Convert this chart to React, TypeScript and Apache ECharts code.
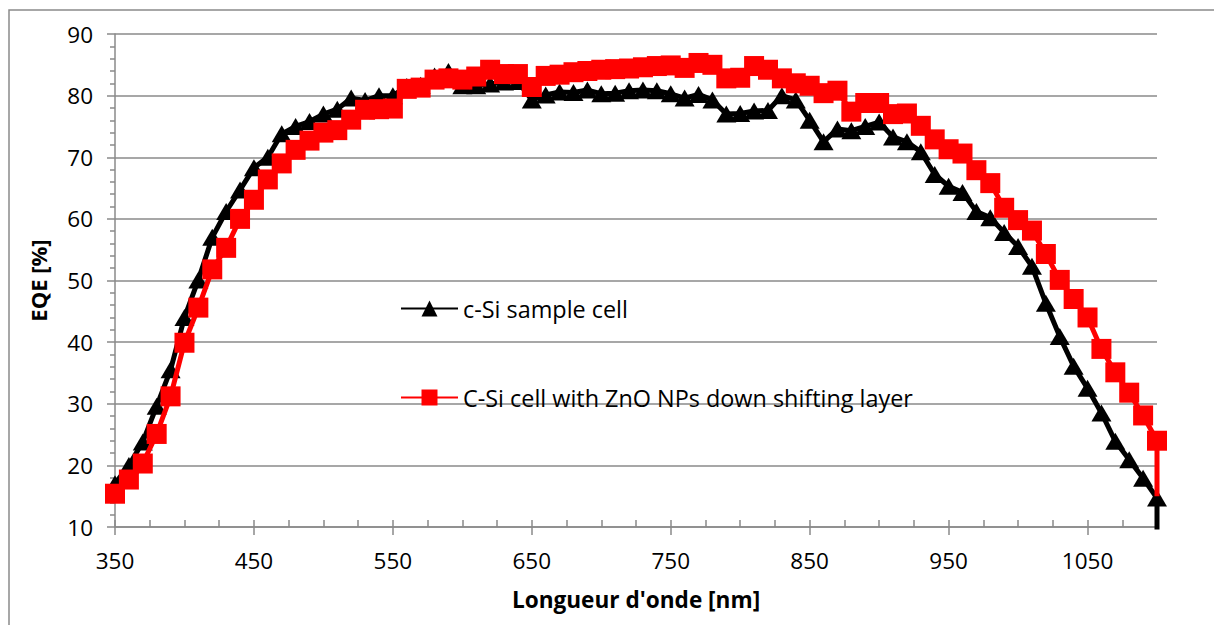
import { useEffect, useRef } from "react";
import * as echarts from "echarts";

const wavelengths = [
  350, 360, 370, 380, 390, 400, 410, 420, 430, 440, 450, 460, 470, 480, 490,
  500, 510, 520, 530, 540, 550, 560, 570, 580, 590, 600, 610, 620, 630, 640,
  650, 660, 670, 680, 690, 700, 710, 720, 730, 740, 750, 760, 770, 780, 790,
  800, 810, 820, 830, 840, 850, 860, 870, 880, 890, 900, 910, 920, 930, 940,
  950, 960, 970, 980, 990, 1000, 1010, 1020, 1030, 1040, 1050, 1060, 1070,
  1080, 1090, 1100,
];

const sampleCell = [
  17.0, 20.0, 23.8, 29.6, 35.5, 44.0, 50.1, 57.0, 61.2, 64.7, 68.3, 70.0, 73.8,
  75.0, 75.8, 77.0, 77.8, 79.6, 79.2, 80.0, 80.0, 81.5, 81.7, 83.2, 83.9, 81.6,
  81.6, 81.9, 82.2, 82.3, 79.3, 80.1, 80.6, 80.5, 80.9, 80.3, 80.4, 80.8, 80.9,
  80.8, 80.3, 79.6, 80.2, 79.3, 77.0, 77.1, 77.5, 77.6, 80.0, 79.3, 76.0, 72.5,
  74.6, 74.3, 75.0, 75.7, 73.3, 72.5, 70.9, 67.2, 65.3, 64.3, 61.2, 60.2, 57.8,
  55.5, 52.3, 46.3, 40.9, 36.1, 32.5, 28.5, 23.9, 20.9, 17.9, 14.7,
];

const znoCell = [
  15.4, 17.7, 20.3, 25.1, 31.2, 39.9, 45.6, 51.8, 55.3, 60.0, 63.1, 66.4, 69.0,
  71.2, 72.7, 74.0, 74.4, 76.1, 77.7, 77.8, 77.9, 81.1, 81.3, 82.6, 82.8, 82.6,
  83.1, 84.2, 83.5, 83.5, 81.4, 83.2, 83.4, 83.8, 84.0, 84.2, 84.3, 84.4, 84.6,
  84.8, 84.9, 84.5, 85.3, 85.0, 82.8, 82.9, 84.8, 84.2, 82.8, 82.0, 81.6, 80.4,
  80.8, 77.4, 78.8, 78.8, 77.0, 77.1, 75.1, 72.9, 71.3, 70.6, 67.9, 65.8, 61.8,
  59.8, 58.1, 54.3, 50.1, 47.0, 44.0, 38.9, 35.1, 31.8, 28.1, 24.0,
];

// final unmarked points where each trace drops at the end of the range
const sampleTail = [1100, 5];
const znoTail = [1100, 15];

const seriesNames = [
  "c-Si sample cell",
  "C-Si cell with ZnO NPs down shifting layer",
];

const xAxisTitle = "Longueur d'onde [nm]";
const yAxisTitle = "EQE [%]";

const FONT = "'Open Sans', sans-serif";
const GRAY = "#8a8a8a";

export default function App() {
  const ref = useRef<HTMLDivElement>(null);

  useEffect(() => {
    if (!ref.current) return;
    const chart = echarts.init(ref.current, undefined, { renderer: "svg" });

    const blackData: any[] = wavelengths.map((w, i) => [w, sampleCell[i]]);
    blackData.push({ value: sampleTail, symbol: "none" });
    const redData: any[] = wavelengths.map((w, i) => [w, znoCell[i]]);
    redData.push({ value: znoTail, symbol: "none" });

    const option: any = {
      animation: false,
      backgroundColor: "#ffffff",
      graphic: [
        {
          type: "rect",
          shape: { x: 9, y: 10, width: 1230, height: 640 },
          style: { fill: "none", stroke: GRAY, lineWidth: 1.5 },
          silent: true,
        },
      ],
      grid: { left: 115, right: 57, top: 34, bottom: 98 },
      legend: {
        orient: "vertical",
        left: 400,
        top: 297,
        padding: 0,
        itemWidth: 57,
        itemHeight: 20,
        itemGap: 66,
        data: seriesNames,
        textStyle: { fontFamily: FONT, fontSize: 23.4, color: "#000" },
      },
      xAxis: [
        {
          type: "value",
          min: 350,
          max: 1100,
          interval: 100,
          name: xAxisTitle,
          nameLocation: "middle",
          nameGap: 61,
          nameTextStyle: {
            fontFamily: FONT,
            fontSize: 22.6,
            fontWeight: "bold",
            color: "#000",
          },
          axisLine: { show: true, lineStyle: { color: GRAY, width: 1.5 } },
          axisTick: { show: true, length: 8, lineStyle: { color: GRAY, width: 1.5 } },
          minorTick: { show: false },
          splitLine: { show: false },
          axisLabel: {
            showMaxLabel: false,
            margin: 22,
            fontFamily: FONT,
            fontSize: 22.5,
            color: "#000",
            formatter: (v: number) => String(v),
          },
        },
        {
          type: "value",
          min: 350,
          max: 1100,
          interval: 25,
          position: "bottom",
          axisLine: { show: false },
          axisTick: {
            show: true,
            inside: true,
            length: 7,
            lineStyle: { color: GRAY, width: 1.5 },
          },
          axisLabel: { show: false },
          splitLine: { show: false },
        },
      ],
      yAxis: {
        type: "value",
        min: 10,
        max: 90,
        interval: 10,
        name: yAxisTitle,
        nameLocation: "middle",
        nameGap: 66,
        nameTextStyle: {
          fontFamily: FONT,
          fontSize: 22,
          fontWeight: "bold",
          color: "#000",
        },
        axisLine: { show: true, lineStyle: { color: GRAY, width: 1.5 } },
        axisTick: { show: true, length: 8, lineStyle: { color: GRAY, width: 1.5 } },
        minorTick: {
          show: true,
          splitNumber: 5,
          length: 5,
          lineStyle: { color: GRAY, width: 1.5 },
        },
        splitLine: { show: true, lineStyle: { color: GRAY, width: 1.5 } },
        axisLabel: {
          margin: 22,
          fontFamily: FONT,
          fontSize: 22.5,
          color: "#000",
        },
      },
      series: [
        {
          name: seriesNames[0],
          type: "line",
          xAxisIndex: 0,
          data: blackData,
          symbol: "triangle",
          symbolSize: [20, 17],
          showAllSymbol: true,
          lineStyle: { color: "#000000", width: 5 },
          itemStyle: { color: "#000000" },
          z: 2,
        },
        {
          name: seriesNames[1],
          type: "line",
          xAxisIndex: 0,
          data: redData,
          symbol: "rect",
          symbolSize: 20,
          showAllSymbol: true,
          lineStyle: { color: "#ff0000", width: 5 },
          itemStyle: { color: "#ff0000" },
          z: 3,
        },
      ],
    };

    chart.setOption(option);
    return () => chart.dispose();
  }, []);

  return (
    <div
      ref={ref}
      style={{ position: "absolute", left: 0, top: 0, width: 1214, height: 625 }}
    />
  );
}
